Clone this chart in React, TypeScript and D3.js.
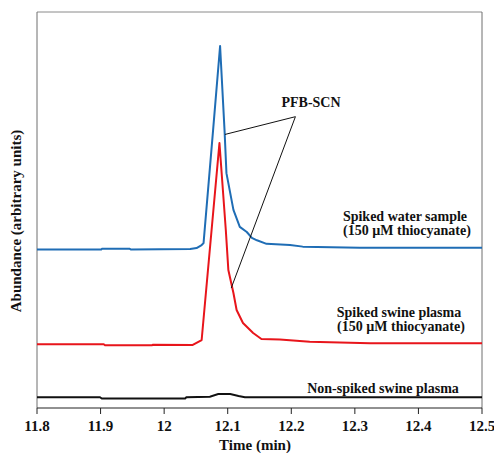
import React from "react";
import * as d3 from "d3";

// ---- data ----
const waterTime = [11.8, 11.901, 11.902, 11.946, 11.948, 12.041, 12.051, 12.059, 12.062, 12.077, 12.088, 12.095, 12.098, 12.109, 12.119, 12.13, 12.138, 12.146, 12.161, 12.198, 12.218, 12.308, 12.5];
const waterAbundance = [39.87, 39.87, 40.05, 40.05, 39.87, 40.0, 40.25, 41.0, 41.5, 70.1, 91.4, 70.1, 59.2, 49.9, 45.6, 44.3, 42.8, 42.2, 41.3, 41.0, 40.6, 40.3, 40.3];

const plasmaTime = [11.8, 11.905, 11.907, 11.981, 11.982, 12.045, 12.059, 12.087, 12.097, 12.101, 12.109, 12.114, 12.124, 12.14, 12.153, 12.182, 12.229, 12.324, 12.5];
const plasmaAbundance = [15.87, 15.87, 15.62, 15.62, 15.75, 15.7, 16.96, 66.84, 44.81, 34.68, 28.86, 24.56, 21.27, 18.73, 17.22, 17.09, 16.53, 16.13, 16.13];

const blankTime = [11.8, 11.899, 11.902, 12.033, 12.035, 12.072, 12.085, 12.104, 12.117, 12.127, 12.5];
const blankAbundance = [2.46, 2.46, 2.15, 2.15, 2.46, 2.61, 3.29, 3.29, 2.78, 2.46, 2.46];

const xTicks = [11.8, 11.9, 12.0, 12.1, 12.2, 12.3, 12.4, 12.5];
const xTickLabels = ["11.8", "11.9", "12", "12.1", "12.2", "12.3", "12.4", "12.5"];

const seriesNames = ["Spiked water sample", "Spiked swine plasma", "Non-spiked swine plasma"];
const concentrationNote = "(150 \u00b5M thiocyanate)";
const peakLabel = "PFB-SCN";
const peakPointerTime = [12.2065, 12.0957, 12.1055];
const peakPointerAbundance = [73.5, 69.0, 30.1];

// ---- layout ----
const W = 494;
const H = 453;
const left = 37;
const right = 482;
const top = 12;
const bottom = 408;
const FONT = "Liberation Serif, Times New Roman, DejaVu Serif, serif";

export default function App() {
  const x = d3.scaleLinear().domain([11.8, 12.5]).range([left, right]);
  const y = d3.scaleLinear().domain([0, 100]).range([bottom - 1, top]);

  const line = d3
    .line<[number, number]>()
    .x((d) => x(d[0]))
    .y((d) => y(d[1]));

  const zip = (t: number[], v: number[]) => t.map((ti, i) => [ti, v[i]] as [number, number]);

  const waterPath = line(zip(waterTime, waterAbundance)) || "";
  const plasmaPath = line(zip(plasmaTime, plasmaAbundance)) || "";
  const blankPath = line(zip(blankTime, blankAbundance)) || "";

  const px0 = x(peakPointerTime[0]);
  const py0 = y(peakPointerAbundance[0]);

  const ts = (size: number): React.CSSProperties => ({
    fontFamily: FONT,
    fontWeight: 700,
    fontSize: size,
  });

  return (
    <svg
      width={W}
      height={H}
      style={{ position: "absolute", left: 0, top: 0, background: "#fff", fontFamily: FONT }}
    >
      <rect x={0} y={0} width={W} height={H} fill="#fff" />
      {/* frame */}
      <line x1={left} y1={top} x2={right} y2={top} stroke="#8a8a8a" strokeWidth={1} />
      <line x1={left} y1={top} x2={left} y2={bottom} stroke="#6e6e6e" strokeWidth={1} />
      <line x1={right} y1={top} x2={right} y2={bottom} stroke="#6e6e6e" strokeWidth={1} />
      <line x1={left} y1={bottom} x2={right} y2={bottom} stroke="#222" strokeWidth={1} />

      {/* x ticks */}
      {xTicks.map((t, i) => (
        <g key={t}>
          <line x1={x(t)} y1={bottom} x2={x(t)} y2={bottom + 6} stroke="#222" strokeWidth={1} />
          <text x={x(t)} y={431} textAnchor="middle" style={ts(15)} fill="#111">
            {xTickLabels[i]}
          </text>
        </g>
      ))}
      <text x={255} y={450} textAnchor="middle" style={ts(15)} fill="#111">
        Time (min)
      </text>
      <text
        transform={`translate(21, 221) rotate(-90)`}
        textAnchor="middle"
        style={ts(15)}
        fill="#111"
      >
        Abundance (arbitrary units)
      </text>

      {/* traces */}
      <path d={blankPath} fill="none" stroke="#111" strokeWidth={2} />
      <path d={plasmaPath} fill="none" stroke="#e8151b" strokeWidth={2} strokeLinejoin="round" />
      <path d={waterPath} fill="none" stroke="#1f6db5" strokeWidth={2} strokeLinejoin="round" />

      {/* annotation */}
      <line x1={px0} y1={py0} x2={x(peakPointerTime[1])} y2={y(peakPointerAbundance[1])} stroke="#111" strokeWidth={1} />
      <line x1={px0} y1={py0} x2={x(peakPointerTime[2])} y2={y(peakPointerAbundance[2])} stroke="#111" strokeWidth={1} />
      <text x={311} y={107} textAnchor="middle" style={ts(14)} fill="#111">
        {peakLabel}
      </text>

      <text x={405} y={221} textAnchor="middle" style={ts(14)} fill="#111">
        {seriesNames[0]}
      </text>
      <text x={407} y={235} textAnchor="middle" style={ts(14)} fill="#111">
        {concentrationNote}
      </text>
      <text x={399} y={317} textAnchor="middle" style={ts(14)} fill="#111">
        {seriesNames[1]}
      </text>
      <text x={401} y={331} textAnchor="middle" style={ts(14)} fill="#111">
        {concentrationNote}
      </text>
      <text x={383} y={393} textAnchor="middle" style={ts(14)} fill="#111">
        {seriesNames[2]}
      </text>
    </svg>
  );
}
